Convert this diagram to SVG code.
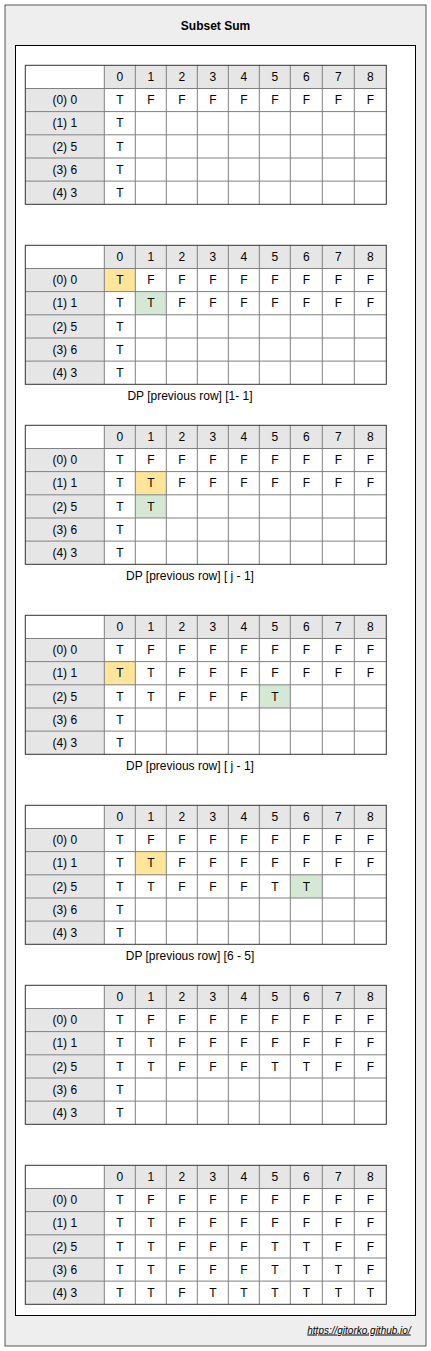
<svg xmlns="http://www.w3.org/2000/svg" xmlns:xlink="http://www.w3.org/1999/xlink" width="431" height="1351" viewBox="0 0 431 1351">
<style>
text{font-family:"Liberation Sans",Arial,Helvetica,sans-serif;font-size:12px;fill:#000;text-anchor:middle}
.title{font-weight:bold}
.link{font-size:10px;font-style:italic;text-decoration:underline;text-anchor:end}
.hd{fill:#E6E6E6}
.yl{fill:#FFE599}
.gr{fill:#D5E8D4}
.gl{stroke:#808080;stroke-width:1;fill:none}
.bd{stroke:#333333;stroke-width:1;fill:none}
</style>
<defs>
<g id="gridfill">
<rect x="25.3" y="0" width="361" height="139" fill="#FFFFFF"/>
<rect class="hd" x="104.3" y="0" width="282" height="23.2"/>
<rect class="hd" x="25.3" y="23.2" width="79" height="115.8"/>
</g>
<g id="gridlines">
<path class="gl" d="M25.3 23.2H386.3M25.3 46.3H386.3M25.3 69.5H386.3M25.3 92.7H386.3M25.3 115.8H386.3M104.3 0V139M135.3 0V139M166.3 0V139M197.3 0V139M228.3 0V139M259.3 0V139M290.3 0V139M322.3 0V139M354.3 0V139"/>
<rect class="bd" x="25.3" y="0" width="361" height="139"/>
</g>
</defs>
<g id="background">
<rect x="5" y="5" width="421" height="1341" fill="#EEEEEE" stroke="#555555" stroke-width="1"/>
<text class="title" x="215.5" y="30">Subset Sum</text>
<rect x="15.5" y="45.5" width="400" height="1270" fill="#FFFFFF" stroke="#000000" stroke-width="1"/>
<text class="link" x="410.7" y="1333.5">https://gitorko.github.io/</text>
</g>
<g id="connectors"/>

<g id="table1" transform="translate(0,65.3)">
<use xlink:href="#gridfill"/>
<use xlink:href="#gridlines"/>
<text x="119.8" y="15.8">0</text><text x="150.8" y="15.8">1</text><text x="181.8" y="15.8">2</text><text x="212.8" y="15.8">3</text><text x="243.8" y="15.8">4</text><text x="274.8" y="15.8">5</text><text x="306.3" y="15.8">6</text><text x="338.3" y="15.8">7</text><text x="370.3" y="15.8">8</text>
<text x="64.8" y="39">(0) 0</text><text x="64.8" y="62.1">(1) 1</text><text x="64.8" y="85.3">(2) 5</text><text x="64.8" y="108.5">(3) 6</text><text x="64.8" y="131.6">(4) 3</text>
<text x="119.8" y="39">T</text><text x="150.8" y="39">F</text><text x="181.8" y="39">F</text><text x="212.8" y="39">F</text><text x="243.8" y="39">F</text><text x="274.8" y="39">F</text><text x="306.3" y="39">F</text><text x="338.3" y="39">F</text><text x="370.3" y="39">F</text>
<text x="119.8" y="62.1">T</text>
<text x="119.8" y="85.3">T</text>
<text x="119.8" y="108.5">T</text>
<text x="119.8" y="131.6">T</text>
</g>

<g id="table2" transform="translate(0,245.3)">
<use xlink:href="#gridfill"/>
<rect class="yl" x="104.3" y="23.2" width="31" height="23.1"/>
<rect class="gr" x="135.3" y="46.3" width="31" height="23.2"/>
<use xlink:href="#gridlines"/>
<text x="119.8" y="15.8">0</text><text x="150.8" y="15.8">1</text><text x="181.8" y="15.8">2</text><text x="212.8" y="15.8">3</text><text x="243.8" y="15.8">4</text><text x="274.8" y="15.8">5</text><text x="306.3" y="15.8">6</text><text x="338.3" y="15.8">7</text><text x="370.3" y="15.8">8</text>
<text x="64.8" y="39">(0) 0</text><text x="64.8" y="62.1">(1) 1</text><text x="64.8" y="85.3">(2) 5</text><text x="64.8" y="108.5">(3) 6</text><text x="64.8" y="131.6">(4) 3</text>
<text x="119.8" y="39">T</text><text x="150.8" y="39">F</text><text x="181.8" y="39">F</text><text x="212.8" y="39">F</text><text x="243.8" y="39">F</text><text x="274.8" y="39">F</text><text x="306.3" y="39">F</text><text x="338.3" y="39">F</text><text x="370.3" y="39">F</text>
<text x="119.8" y="62.1">T</text><text x="150.8" y="62.1">T</text><text x="181.8" y="62.1">F</text><text x="212.8" y="62.1">F</text><text x="243.8" y="62.1">F</text><text x="274.8" y="62.1">F</text><text x="306.3" y="62.1">F</text><text x="338.3" y="62.1">F</text><text x="370.3" y="62.1">F</text>
<text x="119.8" y="85.3">T</text>
<text x="119.8" y="108.5">T</text>
<text x="119.8" y="131.6">T</text>
<text x="190" y="154.7">DP [previous row] [1- 1]</text>
</g>

<g id="table3" transform="translate(0,425.3)">
<use xlink:href="#gridfill"/>
<rect class="yl" x="135.3" y="46.3" width="31" height="23.2"/>
<rect class="gr" x="135.3" y="69.5" width="31" height="23.2"/>
<use xlink:href="#gridlines"/>
<text x="119.8" y="15.8">0</text><text x="150.8" y="15.8">1</text><text x="181.8" y="15.8">2</text><text x="212.8" y="15.8">3</text><text x="243.8" y="15.8">4</text><text x="274.8" y="15.8">5</text><text x="306.3" y="15.8">6</text><text x="338.3" y="15.8">7</text><text x="370.3" y="15.8">8</text>
<text x="64.8" y="39">(0) 0</text><text x="64.8" y="62.1">(1) 1</text><text x="64.8" y="85.3">(2) 5</text><text x="64.8" y="108.5">(3) 6</text><text x="64.8" y="131.6">(4) 3</text>
<text x="119.8" y="39">T</text><text x="150.8" y="39">F</text><text x="181.8" y="39">F</text><text x="212.8" y="39">F</text><text x="243.8" y="39">F</text><text x="274.8" y="39">F</text><text x="306.3" y="39">F</text><text x="338.3" y="39">F</text><text x="370.3" y="39">F</text>
<text x="119.8" y="62.1">T</text><text x="150.8" y="62.1">T</text><text x="181.8" y="62.1">F</text><text x="212.8" y="62.1">F</text><text x="243.8" y="62.1">F</text><text x="274.8" y="62.1">F</text><text x="306.3" y="62.1">F</text><text x="338.3" y="62.1">F</text><text x="370.3" y="62.1">F</text>
<text x="119.8" y="85.3">T</text><text x="150.8" y="85.3">T</text>
<text x="119.8" y="108.5">T</text>
<text x="119.8" y="131.6">T</text>
<text x="190" y="154.7">DP [previous row] [ j - 1]</text>
</g>

<g id="table4" transform="translate(0,615.3)">
<use xlink:href="#gridfill"/>
<rect class="yl" x="104.3" y="46.3" width="31" height="23.2"/>
<rect class="gr" x="259.3" y="69.5" width="31" height="23.2"/>
<use xlink:href="#gridlines"/>
<text x="119.8" y="15.8">0</text><text x="150.8" y="15.8">1</text><text x="181.8" y="15.8">2</text><text x="212.8" y="15.8">3</text><text x="243.8" y="15.8">4</text><text x="274.8" y="15.8">5</text><text x="306.3" y="15.8">6</text><text x="338.3" y="15.8">7</text><text x="370.3" y="15.8">8</text>
<text x="64.8" y="39">(0) 0</text><text x="64.8" y="62.1">(1) 1</text><text x="64.8" y="85.3">(2) 5</text><text x="64.8" y="108.5">(3) 6</text><text x="64.8" y="131.6">(4) 3</text>
<text x="119.8" y="39">T</text><text x="150.8" y="39">F</text><text x="181.8" y="39">F</text><text x="212.8" y="39">F</text><text x="243.8" y="39">F</text><text x="274.8" y="39">F</text><text x="306.3" y="39">F</text><text x="338.3" y="39">F</text><text x="370.3" y="39">F</text>
<text x="119.8" y="62.1">T</text><text x="150.8" y="62.1">T</text><text x="181.8" y="62.1">F</text><text x="212.8" y="62.1">F</text><text x="243.8" y="62.1">F</text><text x="274.8" y="62.1">F</text><text x="306.3" y="62.1">F</text><text x="338.3" y="62.1">F</text><text x="370.3" y="62.1">F</text>
<text x="119.8" y="85.3">T</text><text x="150.8" y="85.3">T</text><text x="181.8" y="85.3">F</text><text x="212.8" y="85.3">F</text><text x="243.8" y="85.3">F</text><text x="274.8" y="85.3">T</text>
<text x="119.8" y="108.5">T</text>
<text x="119.8" y="131.6">T</text>
<text x="190" y="154.7">DP [previous row] [ j - 1]</text>
</g>

<g id="table5" transform="translate(0,805.3)">
<use xlink:href="#gridfill"/>
<rect class="yl" x="135.3" y="46.3" width="31" height="23.2"/>
<rect class="gr" x="290.3" y="69.5" width="32" height="23.2"/>
<use xlink:href="#gridlines"/>
<text x="119.8" y="15.8">0</text><text x="150.8" y="15.8">1</text><text x="181.8" y="15.8">2</text><text x="212.8" y="15.8">3</text><text x="243.8" y="15.8">4</text><text x="274.8" y="15.8">5</text><text x="306.3" y="15.8">6</text><text x="338.3" y="15.8">7</text><text x="370.3" y="15.8">8</text>
<text x="64.8" y="39">(0) 0</text><text x="64.8" y="62.1">(1) 1</text><text x="64.8" y="85.3">(2) 5</text><text x="64.8" y="108.5">(3) 6</text><text x="64.8" y="131.6">(4) 3</text>
<text x="119.8" y="39">T</text><text x="150.8" y="39">F</text><text x="181.8" y="39">F</text><text x="212.8" y="39">F</text><text x="243.8" y="39">F</text><text x="274.8" y="39">F</text><text x="306.3" y="39">F</text><text x="338.3" y="39">F</text><text x="370.3" y="39">F</text>
<text x="119.8" y="62.1">T</text><text x="150.8" y="62.1">T</text><text x="181.8" y="62.1">F</text><text x="212.8" y="62.1">F</text><text x="243.8" y="62.1">F</text><text x="274.8" y="62.1">F</text><text x="306.3" y="62.1">F</text><text x="338.3" y="62.1">F</text><text x="370.3" y="62.1">F</text>
<text x="119.8" y="85.3">T</text><text x="150.8" y="85.3">T</text><text x="181.8" y="85.3">F</text><text x="212.8" y="85.3">F</text><text x="243.8" y="85.3">F</text><text x="274.8" y="85.3">T</text><text x="306.3" y="85.3">T</text>
<text x="119.8" y="108.5">T</text>
<text x="119.8" y="131.6">T</text>
<text x="190" y="154.7">DP [previous row] [6 - 5]</text>
</g>

<g id="table6" transform="translate(0,985.3)">
<use xlink:href="#gridfill"/>
<use xlink:href="#gridlines"/>
<text x="119.8" y="15.8">0</text><text x="150.8" y="15.8">1</text><text x="181.8" y="15.8">2</text><text x="212.8" y="15.8">3</text><text x="243.8" y="15.8">4</text><text x="274.8" y="15.8">5</text><text x="306.3" y="15.8">6</text><text x="338.3" y="15.8">7</text><text x="370.3" y="15.8">8</text>
<text x="64.8" y="39">(0) 0</text><text x="64.8" y="62.1">(1) 1</text><text x="64.8" y="85.3">(2) 5</text><text x="64.8" y="108.5">(3) 6</text><text x="64.8" y="131.6">(4) 3</text>
<text x="119.8" y="39">T</text><text x="150.8" y="39">F</text><text x="181.8" y="39">F</text><text x="212.8" y="39">F</text><text x="243.8" y="39">F</text><text x="274.8" y="39">F</text><text x="306.3" y="39">F</text><text x="338.3" y="39">F</text><text x="370.3" y="39">F</text>
<text x="119.8" y="62.1">T</text><text x="150.8" y="62.1">T</text><text x="181.8" y="62.1">F</text><text x="212.8" y="62.1">F</text><text x="243.8" y="62.1">F</text><text x="274.8" y="62.1">F</text><text x="306.3" y="62.1">F</text><text x="338.3" y="62.1">F</text><text x="370.3" y="62.1">F</text>
<text x="119.8" y="85.3">T</text><text x="150.8" y="85.3">T</text><text x="181.8" y="85.3">F</text><text x="212.8" y="85.3">F</text><text x="243.8" y="85.3">F</text><text x="274.8" y="85.3">T</text><text x="306.3" y="85.3">T</text><text x="338.3" y="85.3">F</text><text x="370.3" y="85.3">F</text>
<text x="119.8" y="108.5">T</text>
<text x="119.8" y="131.6">T</text>
</g>

<g id="table7" transform="translate(0,1165.3)">
<use xlink:href="#gridfill"/>
<use xlink:href="#gridlines"/>
<text x="119.8" y="15.8">0</text><text x="150.8" y="15.8">1</text><text x="181.8" y="15.8">2</text><text x="212.8" y="15.8">3</text><text x="243.8" y="15.8">4</text><text x="274.8" y="15.8">5</text><text x="306.3" y="15.8">6</text><text x="338.3" y="15.8">7</text><text x="370.3" y="15.8">8</text>
<text x="64.8" y="39">(0) 0</text><text x="64.8" y="62.1">(1) 1</text><text x="64.8" y="85.3">(2) 5</text><text x="64.8" y="108.5">(3) 6</text><text x="64.8" y="131.6">(4) 3</text>
<text x="119.8" y="39">T</text><text x="150.8" y="39">F</text><text x="181.8" y="39">F</text><text x="212.8" y="39">F</text><text x="243.8" y="39">F</text><text x="274.8" y="39">F</text><text x="306.3" y="39">F</text><text x="338.3" y="39">F</text><text x="370.3" y="39">F</text>
<text x="119.8" y="62.1">T</text><text x="150.8" y="62.1">T</text><text x="181.8" y="62.1">F</text><text x="212.8" y="62.1">F</text><text x="243.8" y="62.1">F</text><text x="274.8" y="62.1">F</text><text x="306.3" y="62.1">F</text><text x="338.3" y="62.1">F</text><text x="370.3" y="62.1">F</text>
<text x="119.8" y="85.3">T</text><text x="150.8" y="85.3">T</text><text x="181.8" y="85.3">F</text><text x="212.8" y="85.3">F</text><text x="243.8" y="85.3">F</text><text x="274.8" y="85.3">T</text><text x="306.3" y="85.3">T</text><text x="338.3" y="85.3">F</text><text x="370.3" y="85.3">F</text>
<text x="119.8" y="108.5">T</text><text x="150.8" y="108.5">T</text><text x="181.8" y="108.5">F</text><text x="212.8" y="108.5">F</text><text x="243.8" y="108.5">F</text><text x="274.8" y="108.5">T</text><text x="306.3" y="108.5">T</text><text x="338.3" y="108.5">T</text><text x="370.3" y="108.5">F</text>
<text x="119.8" y="131.6">T</text><text x="150.8" y="131.6">T</text><text x="181.8" y="131.6">F</text><text x="212.8" y="131.6">T</text><text x="243.8" y="131.6">T</text><text x="274.8" y="131.6">T</text><text x="306.3" y="131.6">T</text><text x="338.3" y="131.6">T</text><text x="370.3" y="131.6">T</text>
</g>
</svg>
